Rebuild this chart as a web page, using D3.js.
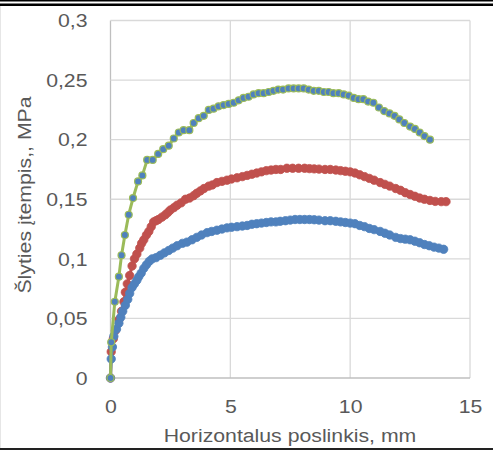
<!DOCTYPE html>
<html><head><meta charset="utf-8">
<script src="https://cdn.jsdelivr.net/npm/d3@7"></script>
<style>html,body{margin:0;padding:0;background:#fff;}svg{display:block;}</style>
</head><body>
<script>
// ---- data ----
const xTicks = [0, 5, 10, 15];
const yTicks = [0, 0.05, 0.1, 0.15, 0.2, 0.25, 0.3];
const xTitle = "Horizontalus poslinkis, mm";
const yTitle = "Šlyties įtempis,, MPa";

const redX = [0,0.03,0.12,0.21,0.35,0.46,0.56,0.62,0.7,0.8,0.9,1.0,1.1,1.22,1.3,1.39,1.5,1.6,1.7,1.8,1.9,2.0,2.15,2.29,2.4,2.5,2.65,2.78,2.95,3.13,3.3,3.47,3.6,3.75,3.9,4.1,4.25,4.44,4.65,4.86,5.05,5.28,5.5,5.7,5.9,6.1,6.3,6.5,6.7,6.9,7.1,7.36,7.6,7.85,8.1,8.3,8.5,8.7,8.95,9.17,9.4,9.6,9.8,10.0,10.2,10.4,10.6,10.8,11.0,11.25,11.45,11.65,11.9,12.1,12.3,12.5,12.7,12.9,13.1,13.33,13.55,13.8,14.0];
const redY = [0,0.022,0.033,0.040,0.049,0.056,0.064,0.072,0.079,0.086,0.094,0.100,0.104,0.109,0.113,0.116,0.120,0.123,0.127,0.131,0.132,0.133,0.135,0.137,0.139,0.141,0.143,0.145,0.147,0.150,0.151,0.153,0.155,0.157,0.159,0.161,0.162,0.164,0.165,0.166,0.167,0.168,0.169,0.170,0.171,0.172,0.173,0.174,0.1745,0.175,0.175,0.176,0.176,0.176,0.176,0.1757,0.1755,0.1753,0.175,0.175,0.1745,0.174,0.1735,0.173,0.172,0.1705,0.169,0.1675,0.166,0.164,0.1625,0.161,0.159,0.1575,0.1555,0.154,0.1525,0.151,0.150,0.149,0.1482,0.148,0.148];

const blueX = [0,0.03,0.08,0.14,0.25,0.35,0.43,0.51,0.62,0.72,0.8,0.9,1.0,1.1,1.18,1.28,1.39,1.5,1.62,1.74,1.9,2.08,2.25,2.43,2.6,2.78,3.0,3.19,3.4,3.6,3.8,4.03,4.22,4.44,4.65,4.86,5.05,5.28,5.5,5.7,5.9,6.1,6.3,6.5,6.7,6.9,7.08,7.3,7.5,7.7,7.9,8.1,8.3,8.5,8.7,8.95,9.17,9.4,9.6,9.8,10.0,10.2,10.4,10.6,10.8,11.0,11.25,11.45,11.65,11.9,12.1,12.3,12.5,12.7,12.9,13.1,13.3,13.5,13.7,13.9];
const blueY = [0,0.016,0.026,0.035,0.041,0.046,0.051,0.056,0.061,0.066,0.071,0.076,0.079,0.082,0.085,0.088,0.092,0.095,0.098,0.100,0.101,0.103,0.105,0.107,0.109,0.111,0.113,0.114,0.116,0.118,0.120,0.122,0.123,0.124,0.125,0.126,0.1265,0.127,0.1275,0.128,0.129,0.1295,0.130,0.1305,0.131,0.131,0.1315,0.132,0.1325,0.133,0.133,0.133,0.133,0.1328,0.1325,0.132,0.132,0.1315,0.131,0.1305,0.130,0.1295,0.128,0.127,0.1255,0.1245,0.123,0.1215,0.120,0.118,0.117,0.1165,0.116,0.1148,0.1135,0.112,0.111,0.1098,0.109,0.108];

const greenX = [0,0.03,0.18,0.35,0.46,0.6,0.76,0.94,1.15,1.33,1.53,1.76,1.99,2.2,2.43,2.64,2.85,3.05,3.29,3.47,3.68,3.89,4.1,4.3,4.51,4.72,4.93,5.14,5.35,5.55,5.76,5.97,6.18,6.39,6.6,6.8,7.0,7.2,7.43,7.64,7.85,8.06,8.27,8.48,8.69,8.9,9.1,9.3,9.52,9.73,9.94,10.15,10.35,10.55,10.75,10.97,11.2,11.42,11.64,11.85,12.05,12.26,12.5,12.7,12.9,13.1,13.33];
const greenY = [0,0.030,0.064,0.085,0.103,0.120,0.137,0.151,0.165,0.170,0.183,0.183,0.188,0.192,0.195,0.201,0.206,0.208,0.208,0.214,0.218,0.220,0.225,0.226,0.228,0.229,0.230,0.231,0.233,0.235,0.236,0.238,0.239,0.239,0.240,0.241,0.242,0.242,0.243,0.243,0.243,0.243,0.242,0.241,0.241,0.240,0.240,0.239,0.239,0.238,0.237,0.235,0.234,0.234,0.232,0.231,0.227,0.224,0.222,0.220,0.217,0.214,0.211,0.209,0.206,0.203,0.200];

const W = 493, H = 450;
const plot = {left: 110.5, right: 470, top: 20.5, bottom: 378};
const textColor = "#595959";
const font = "Liberation Sans, Arial, sans-serif";
const stretch = 1.18;

const svg = d3.select("body").append("svg").attr("width", W).attr("height", H);
svg.append("rect").attr("width", W).attr("height", H).attr("fill", "#fff");

const x = d3.scaleLinear().domain([0, 15]).range([plot.left, plot.right]);
const y = d3.scaleLinear().domain([0, 0.3]).range([plot.bottom, plot.top]);

// gridlines
const grid = svg.append("g");
grid.selectAll("line.v").data(xTicks).enter().append("line")
  .attr("x1", d => x(d)).attr("x2", d => x(d)).attr("y1", plot.top).attr("y2", plot.bottom)
  .attr("stroke", d => d === 0 ? "#BFBFBF" : "#D9D9D9").attr("stroke-width", 1.3);
grid.selectAll("line.h").data(yTicks).enter().append("line")
  .attr("y1", d => y(d)).attr("y2", d => y(d)).attr("x1", plot.left).attr("x2", plot.right)
  .attr("stroke", d => d === 0 ? "#BFBFBF" : "#D9D9D9").attr("stroke-width", 1.3);

function widen(sel) {
  sel.each(function() {
    const L = this.getComputedTextLength();
    d3.select(this).attr("textLength", L * stretch).attr("lengthAdjust", "spacingAndGlyphs");
  });
}

// axes (labels only)
const fmt = d => String(+d.toFixed(2)).replace(".", ",");
const xAxis = svg.append("g").attr("transform", `translate(0,${plot.bottom + 20})`)
  .call(d3.axisBottom(x).tickValues(xTicks).tickSize(0).tickFormat(d => d));
const yAxis = svg.append("g").attr("transform", `translate(${plot.left - 23},0)`)
  .call(d3.axisLeft(y).tickValues(yTicks).tickSize(0).tickFormat(fmt));
[xAxis, yAxis].forEach(a => {
  a.select(".domain").remove();
  a.selectAll("text").attr("fill", textColor).style("font-family", font).style("font-size", "18px");
});
yAxis.selectAll("text").attr("x", 0).attr("dy", "0.35em");
xAxis.selectAll("text").attr("dy", "0.71em").attr("y", 2);
widen(xAxis.selectAll("text"));
widen(yAxis.selectAll("text"));

const xt = svg.append("text").attr("x", 290).attr("y", 441.5).attr("text-anchor", "middle")
  .attr("fill", textColor).style("font-family", font).style("font-size", "18px").text(xTitle);
const yt = svg.append("text").attr("transform", "translate(31,195) rotate(-90)").attr("text-anchor", "middle")
  .attr("fill", textColor).style("font-family", font).style("font-size", "18px").text(yTitle);
widen(xt); widen(yt);

// series
const line = d3.line().x(d => x(d[0])).y(d => y(d[1]));
function drawSeries(xs, ys, lineColor, fill, stroke, r, lw, sw) {
  const pts = xs.map((v, i) => [v, ys[i]]);
  const g = svg.append("g");
  g.append("path").datum(pts).attr("d", line).attr("fill", "none")
    .attr("stroke", lineColor).attr("stroke-width", lw).attr("stroke-linejoin", "round");
  g.selectAll("circle").data(pts).enter().append("circle")
    .attr("cx", d => x(d[0])).attr("cy", d => y(d[1])).attr("r", r)
    .attr("fill", fill).attr("stroke", stroke).attr("stroke-width", sw);
}
drawSeries(redX, redY, "#C0504D", "#C0504D", "#C0504D", 4.2, 3, 0.8);
drawSeries(blueX, blueY, "#4F81BD", "#4F81BD", "#4F81BD", 4.2, 3, 0.8);
drawSeries(greenX, greenY, "#9BBB59", "#4F81BD", "#9BBB59", 3.5, 3, 1.2);

// frame
svg.append("rect").attr("x", 0).attr("y", 0).attr("width", W).attr("height", 1.5).attr("fill", "#000");
svg.append("rect").attr("x", 0).attr("y", 3.5).attr("width", W).attr("height", 2.5).attr("fill", "#000");
svg.append("rect").attr("x", 0).attr("y", 448).attr("width", W).attr("height", 2).attr("fill", "#222");
svg.append("rect").attr("x", 0).attr("y", 6).attr("width", 1).attr("height", 442).attr("fill", "#E6E6E6");
</script>
</body></html>
